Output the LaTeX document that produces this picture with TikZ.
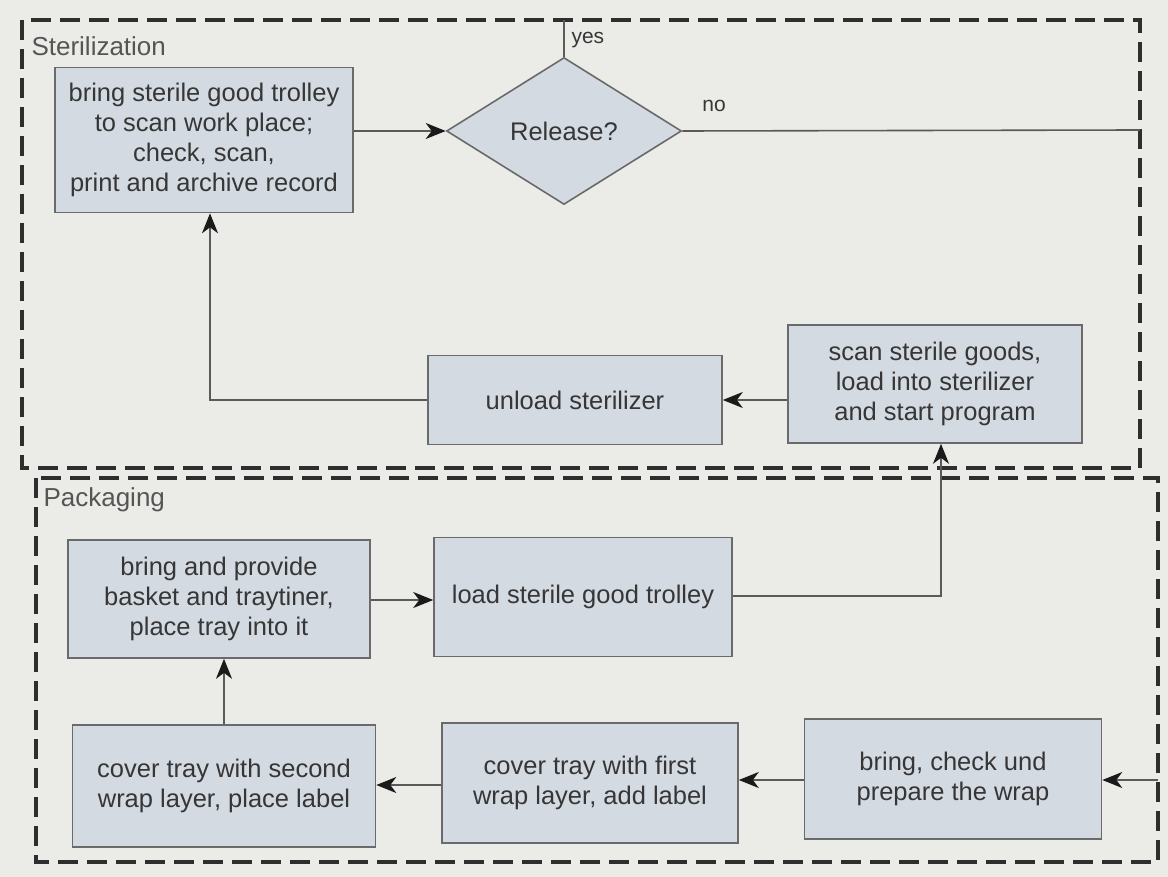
\documentclass[tikz,border=0pt]{standalone}
\usepackage{fontspec}
\setmainfont{Liberation Sans}
\usetikzlibrary{shapes.geometric,arrows.meta}
\definecolor{bg}{HTML}{EBEBE8}
\definecolor{boxfill}{HTML}{D4DAE2}
\definecolor{boxline}{HTML}{6A6A6A}
\definecolor{txt}{HTML}{363636}
\definecolor{lbl}{HTML}{555555}
\definecolor{frame}{HTML}{2E2E2E}
\definecolor{conn}{HTML}{5A5A5A}
\definecolor{tip}{HTML}{1A1A1A}
\tikzset{
  procbox/.style={draw=boxline, line width=1.6pt, fill=boxfill, text=txt,
    align=center, inner sep=2pt, font=\fontsize{25.5}{30}\selectfont},
  decbox/.style={shape=diamond, draw=boxline, line width=1.6pt, fill=boxfill, text=txt,
    inner sep=0pt, minimum width=235pt, minimum height=147pt, font=\fontsize{25.5}{30}\selectfont},
  swimlane/.style={draw=frame, line width=3.5pt, dash pattern=on 20pt off 9pt},
  lanelabel/.style={anchor=west, text=lbl, font=\fontsize{26}{30}\selectfont},
  conlabel/.style={text=txt, font=\fontsize{21}{24}\selectfont},
  flow/.style={draw=conn, line width=1.6pt},
  flowarrow/.style={flow, -{Stealth[length=20pt,width=16pt,inset=6pt,color=tip]}},
}
\begin{document}
\begin{tikzpicture}[x=1pt,y=-1pt]
\fill[bg] (0,0) rectangle (1168,877);
\useasboundingbox (0,0) rectangle (1168,877);

% swimlanes
\draw[swimlane] (22,20) rectangle (1140,468);
\draw[swimlane] (36,478) rectangle (1158,862);
\node[lanelabel] (lster) at (28,46) {Sterilization};
\node[lanelabel] (lpack) at (40,500) {Packaging};

% sterilization nodes
\node[procbox, minimum width=298pt, minimum height=145pt] (bring) at (204,140)
  {bring sterile good trolley\\to scan work place;\\check, scan,\\print and archive record};
\node[decbox] (rel) at (564,131) {Release?};
\node[procbox, minimum width=294pt, minimum height=89pt] (unload) at (575,400) {unload sterilizer};
\node[procbox, minimum width=294pt, minimum height=118pt] (scan) at (935,384)
  {scan sterile goods,\\load into sterilizer\\and start program};

% packaging nodes
\node[procbox, minimum width=302pt, minimum height=118pt] (basket) at (219,599)
  {bring and provide\\basket and traytiner,\\place tray into it};
\node[procbox, minimum width=298pt, minimum height=119pt] (load) at (583,597)
  {load sterile good trolley};
\node[procbox, minimum width=303pt, minimum height=122pt] (second) at (224,786)
  {cover tray with second\\wrap layer, place label};
\node[procbox, minimum width=296pt, minimum height=120pt] (first) at (590,783)
  {cover tray with first\\wrap layer, add label};
\node[procbox, minimum width=297pt, minimum height=120pt] (wrap) at (953,779)
  {bring, check und\\prepare the wrap};

% free ends
\coordinate (yesend) at (564,20);
\coordinate (noend) at (1140,130);
\coordinate (inend) at (1158,780);

% connectors
\draw[flowarrow] (bring.east |- rel.west) -- (rel.west);
\draw[flow] (rel.north) -- (yesend);
\node[conlabel, anchor=west] (yes) at (568,40) {yes};
\draw[flow] (rel.east) -- (noend);
\node[conlabel] (no) at (714,106) {no};
\draw[flowarrow] (scan.west |- unload.east) -- (unload.east);
\draw[flowarrow] (unload.west) -| ([xshift=6pt]bring.south);
\draw[flowarrow] (basket.east |- 0,600) -- (load.west |- 0,600);
\draw[flowarrow] (load.east |- 0,596) -| ([xshift=6pt]scan.south);
\draw[flowarrow] (inend) -- (wrap.east |- inend);
\draw[flowarrow] (wrap.west |- 0,780) -- (first.east |- 0,780);
\draw[flowarrow] (first.west |- 0,785) -- (second.east |- 0,785);
\draw[flowarrow] (second.north) -- (second.north |- basket.south);
\end{tikzpicture}
\end{document}
